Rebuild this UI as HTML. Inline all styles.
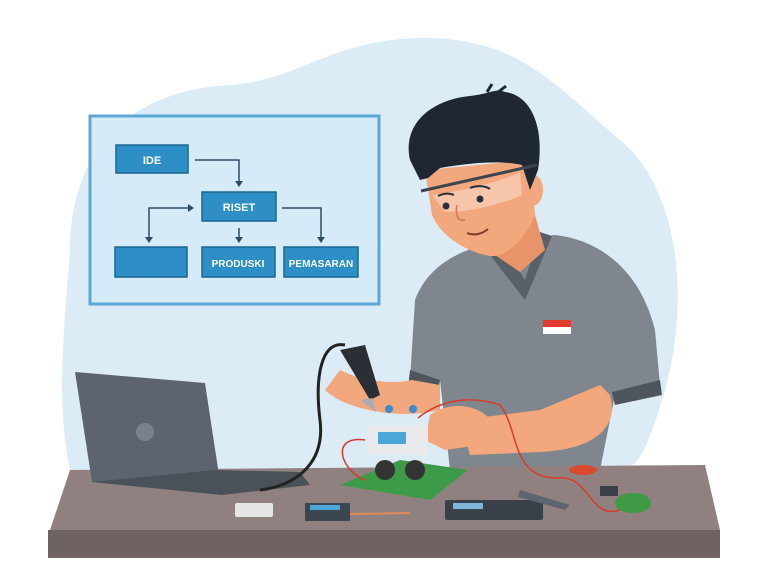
<!DOCTYPE html>
<html><head><meta charset="utf-8"><style>
html,body{margin:0;padding:0;background:#fff;}
svg{display:block}
text{font-family:"Liberation Sans",sans-serif;font-weight:bold;fill:#fff}
</style></head><body>
<svg width="763" height="572" viewBox="0 0 763 572" xmlns="http://www.w3.org/2000/svg">
<path d="M70 250 C70 150 130 90 230 85 C300 80 330 40 420 38 C520 36 560 90 620 140 C680 190 690 300 665 390 C650 440 640 470 620 470 L70 470 C55 400 65 320 70 250Z" fill="#dcecf7"/>
<rect x="90" y="116" width="289" height="188" fill="#d6ebf8" stroke="#5ba7d6" stroke-width="3"/>
<g fill="#2d8fc5" stroke="#1d6690" stroke-width="1.5">
<rect x="116" y="145" width="72" height="28"/>
<rect x="202" y="192" width="74" height="29"/>
<rect x="115" y="247" width="72" height="30"/>
<rect x="202" y="247" width="73" height="30"/>
<rect x="284" y="247" width="74" height="30"/>
</g>
<text x="152" y="164" font-size="11" text-anchor="middle">IDE</text>
<text x="239" y="211" font-size="11" text-anchor="middle">RISET</text>
<text x="238" y="267" font-size="10" text-anchor="middle">PRODUSKI</text>
<text x="321" y="267" font-size="10" text-anchor="middle">PEMASARAN</text>
<g stroke="#2c4d66" stroke-width="1.5" fill="none">
<path d="M195 160 H239 V182"/><path d="M149 238 V208 H189"/><path d="M239 228 V238"/><path d="M282 208 H321 V238"/>
</g>
<g fill="#2c4d66">
<path d="M235 181 L243 181 L239 187Z"/><path d="M145 237 L153 237 L149 243Z"/><path d="M188 204 L188 212 L194 208Z"/><path d="M235 237 L243 237 L239 243Z"/><path d="M317 237 L325 237 L321 243Z"/>
</g>
<!-- person body -->
<path d="M415 300 C430 260 470 245 510 240 L555 235 C600 240 640 270 655 330 L660 385 L615 395 L600 470 L450 470 L440 380 L410 380Z" fill="#7f868d"/>
<path d="M410 370 L440 380 L438 395 L408 388Z" fill="#4f555c"/>
<path d="M612 392 L660 380 L662 395 L615 405Z" fill="#4f555c"/>
<path d="M490 255 L525 300 L552 236 L540 232 L525 280 L505 248Z" fill="#5a6067"/>
<rect x="543" y="320" width="28" height="14" fill="#fff"/><rect x="543" y="320" width="28" height="7" fill="#e03a2f"/>
<!-- neck/head -->
<path d="M492 240 L535 215 L545 250 L520 272 L495 255Z" fill="#e8946a"/>
<path d="M425 170 L530 160 L535 215 C525 240 505 258 490 256 C465 252 440 235 432 215Z" fill="#f3a77c"/>
<ellipse cx="532" cy="190" rx="11" ry="16" fill="#f3a77c"/>
<path d="M410 160 C402 125 430 100 470 96 C490 94 495 88 505 92 C530 95 545 125 538 170 L530 190 L522 165 C500 160 470 163 440 168 L428 178 L420 180Z" fill="#1f2733"/>
<path d="M487 92 L492 84 M497 93 L506 86" stroke="#1f2733" stroke-width="3"/>
<path d="M432 195 C470 190 505 180 520 172 L522 195 C500 205 470 212 445 212Z" fill="#ffffff" opacity=".35"/>
<path d="M421 191 L537 165" stroke="#3d4650" stroke-width="3"/>
<circle cx="446" cy="206" r="3.5" fill="#2a2f38"/><circle cx="480" cy="199" r="3.5" fill="#2a2f38"/>
<path d="M438 196 C444 193 450 193 454 195 M470 188 C478 185 486 186 490 189" stroke="#2a2f38" stroke-width="2" fill="none"/>
<path d="M457 205 C455 215 458 222 465 220" stroke="#d07a55" stroke-width="1.5" fill="none"/>
<path d="M467 233 C474 236 482 234 488 229" stroke="#7a3d2a" stroke-width="2" fill="none"/>
<!-- arms -->
<path d="M610 395 C620 430 590 450 540 452 L470 455 L460 420 L540 410 L600 385Z" fill="#f3a77c"/>
<path d="M440 385 L412 380 C390 385 360 380 340 370 L325 390 C345 410 400 420 440 410Z" fill="#f3a77c"/>
<path d="M430 415 C450 400 480 405 490 420 L480 445 L445 450 L425 440Z" fill="#f3a77c"/>
<!-- table -->
<path d="M70 470 L705 465 L720 530 L50 530Z" fill="#908180"/>
<rect x="48" y="530" width="672" height="28" fill="#6f6361"/>
<!-- laptop -->
<path d="M75 372 L205 383 L222 495 L92 482Z" fill="#5d646d"/>
<path d="M92 482 L222 495 L310 485 L300 472 L215 470Z" fill="#4b5159"/>
<circle cx="145" cy="432" r="9" fill="#7a818a"/>
<path d="M345 345 C320 340 315 380 320 420 C325 460 300 485 260 490" stroke="#222" stroke-width="3" fill="none"/>
<path d="M340 350 L365 345 L380 395 L370 400Z" fill="#2a2f36"/>
<path d="M360 400 L372 398 L376 412Z" fill="#aab"/>
<path d="M340 485 L400 460 L468 470 L430 500Z" fill="#3d9a49"/>
<rect x="368" y="425" width="60" height="30" fill="#e8eaec"/>
<rect x="378" y="432" width="28" height="12" fill="#4aa7d8"/>
<circle cx="385" cy="470" r="10" fill="#333"/><circle cx="415" cy="470" r="10" fill="#333"/>
<circle cx="389" cy="409" r="4" fill="#3a8dd0"/><circle cx="413" cy="409" r="4" fill="#3a8dd0"/>
<path d="M418 418 C440 400 470 395 500 405 C520 430 510 480 560 478 C590 476 590 520 620 510" stroke="#d63a2a" stroke-width="1.5" fill="none"/>
<path d="M365 440 C330 435 340 470 365 480" stroke="#d63a2a" stroke-width="1.5" fill="none"/>
<rect x="235" y="503" width="38" height="14" rx="2" fill="#e6e6e6"/>
<rect x="305" y="503" width="45" height="18" fill="#3c4650"/>
<rect x="310" y="505" width="30" height="5" fill="#4aa7d8"/>
<path d="M350 514 L410 513" stroke="#e08a55" stroke-width="2"/>
<rect x="445" y="500" width="98" height="20" rx="2" fill="#3a4048"/>
<rect x="453" y="503" width="30" height="6" fill="#7fb5d8"/>
<path d="M520 490 L570 505 L565 510 L518 497Z" fill="#5d6570"/>
<ellipse cx="633" cy="503" rx="18" ry="10" fill="#3f9a45"/>
<ellipse cx="583" cy="470" rx="14" ry="5" fill="#d94a2e"/>
<rect x="600" y="486" width="18" height="10" fill="#3a4048"/>
</svg>
</body></html>
